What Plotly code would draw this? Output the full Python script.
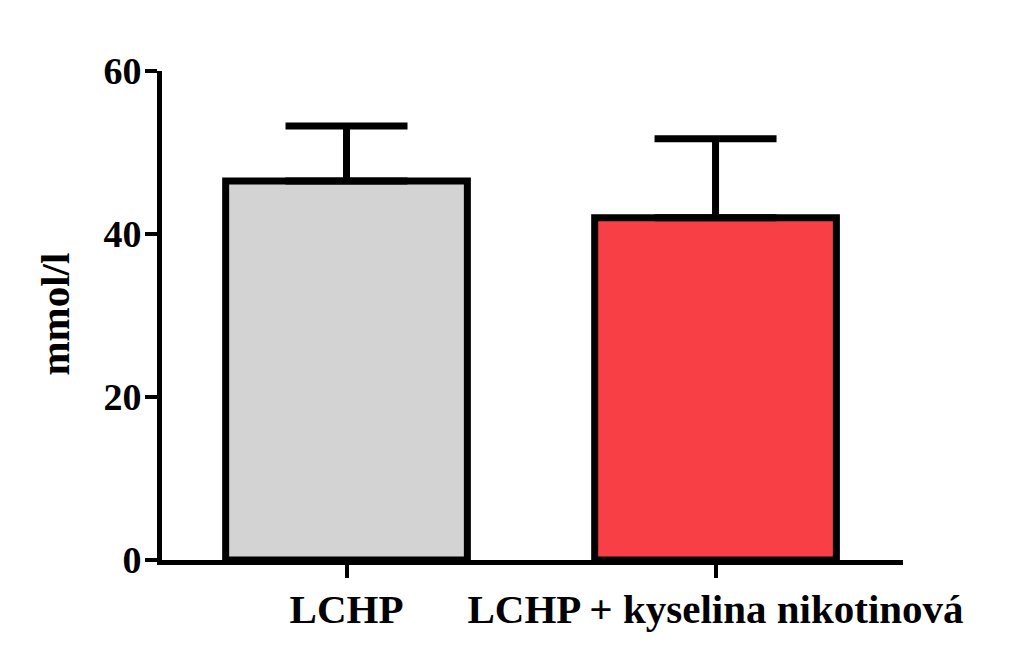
import plotly.graph_objects as go

categories = ["LCHP", "LCHP + kyselina nikotinová"]
means = [46.5, 42.0]
errors_up = [6.75, 9.7]
bar_colors = ["#D3D3D3", "#F73F45"]
y_ticks = [0, 20, 40, 60]
y_title = "mmol/l"

FONT = "Liberation Serif"

fig = go.Figure()
fig.add_trace(go.Bar(
    x=categories,
    y=means,
    width=0.655,
    marker=dict(color=bar_colors, line=dict(color="black", width=7)),
    error_y=dict(type="data", symmetric=False, array=errors_up,
                 arrayminus=[0, 0], color="black", thickness=7, width=61),
))

fig.add_annotation(
    text=y_title, xref="paper", yref="paper", x=-0.145, y=0.503,
    xanchor="center", yanchor="middle", textangle=-90, showarrow=False,
    font=dict(family=FONT, size=41, color="black", weight="bold"),
)

fig.update_layout(
    width=1008, height=641,
    margin=dict(l=154, r=113, t=63, b=89),
    plot_bgcolor="white", paper_bgcolor="white",
    showlegend=False,
    xaxis=dict(
        range=[-0.5, 1.508], showgrid=False, zeroline=False,
        showline=True, linecolor="black", linewidth=5,
        ticks="outside", ticklen=13, tickwidth=4, tickcolor="black",
        ticklabelstandoff=-4,
        tickfont=dict(family=FONT, size=41, color="black", weight="bold"),
    ),
    yaxis=dict(
        range=[0, 60], tickvals=y_ticks, showgrid=False, zeroline=False,
        showline=True, linecolor="black", linewidth=5,
        ticks="outside", ticklen=12, tickwidth=4, tickcolor="black",
        ticklabelstandoff=-4,
        tickfont=dict(family=FONT, size=38, color="black", weight="bold"),
    ),
)

fig.write_html("out.html")
